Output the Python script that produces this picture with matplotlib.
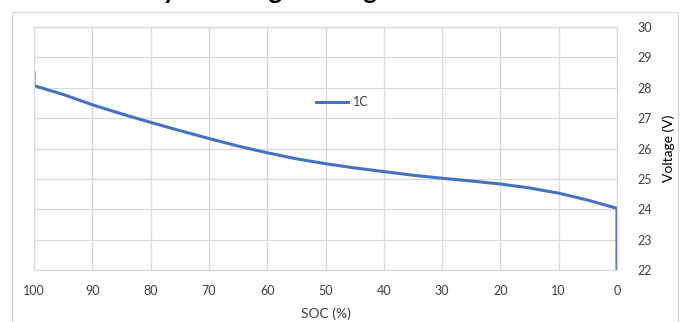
import matplotlib.pyplot as plt
from matplotlib.patches import Rectangle

plt.rcParams["font.family"] = ["Lato", "DejaVu Sans"]

# discharge curve (SOC %, volts)
soc = [100, 100, 95, 90, 85, 80, 75, 70, 65, 60, 55, 50, 45, 40, 35,
       30, 25, 20, 15, 10, 5, 0, 0]
voltage = [28.5, 28.07, 27.78, 27.44, 27.14, 26.86, 26.59, 26.33, 26.08,
           25.86, 25.66, 25.50, 25.36, 25.24, 25.12, 25.02, 24.93, 24.83,
           24.70, 24.53, 24.30, 24.03, 22.0]
series_name = "1C"
x_ticks = list(range(100, -1, -10))
y_ticks = list(range(22, 31))
title = "Battery Discharge Voltage vs. SOC at 1C"

grid_col = "#D9D9D9"
text_col = "#404040"

fig = plt.figure(figsize=(6.84, 3.22), dpi=100)
W, H = 684, 322

# chart area border
fig.patches.append(Rectangle((12 / W, -0.1), (678 - 12) / W, 1.1 - 12 / H,
                             transform=fig.transFigure, fill=False,
                             edgecolor=grid_col, linewidth=0.9))

# title is mostly cut off at the top edge; size it so the descenders
# (y of Battery, g of Voltage) land where they are in the original
renderer = fig.canvas.get_renderer()


def _w(s, size=15):
    t = fig.text(0, 0, s, fontsize=size, fontweight="bold")
    w = t.get_window_extent(renderer).width
    t.remove()
    return w


y_mid = (_w("Batter") + _w("Battery")) / 2
g_mid = (_w("Battery Discharge Voltag") + _w("Battery Discharge Voltage")) / 2
scale = (384 - 170) / (g_mid - y_mid)
fig.text((170 - y_mid * scale) / W, 1 + 1 / H, title,
         ha="left", va="baseline", fontsize=15 * scale, fontweight="bold",
         color="black")

ax = fig.add_axes([34 / W, 1 - 270 / H, (617 - 34) / W, (270 - 27) / H])
ax.plot(soc, voltage, color="#4472C4", linewidth=2.2, label=series_name)

ax.set_xlim(100, 0)
ax.set_ylim(22, 30)
ax.set_xticks(x_ticks)
ax.set_yticks(y_ticks)
ax.yaxis.tick_right()
ax.yaxis.set_label_position("right")
ax.tick_params(length=0, labelsize=9, colors=text_col)
ax.tick_params(axis="x", pad=11)
ax.tick_params(axis="y", pad=15)

ax.grid(True, color=grid_col, linewidth=0.9)
ax.set_axisbelow(True)
for s in ax.spines.values():
    s.set_color(grid_col)
    s.set_linewidth(0.9)

ax.set_xlabel("SOC (%)", fontsize=10, color=text_col, labelpad=7)
ax.set_ylabel("Voltage (V)", fontsize=10, color="black", labelpad=7)

ax.legend(loc="center left", bbox_to_anchor=(0.465, 0.69), frameon=False,
          fontsize=9, handlelength=2.5, handletextpad=0.4,
          labelcolor=text_col)

fig.savefig("out.png", dpi=100)
